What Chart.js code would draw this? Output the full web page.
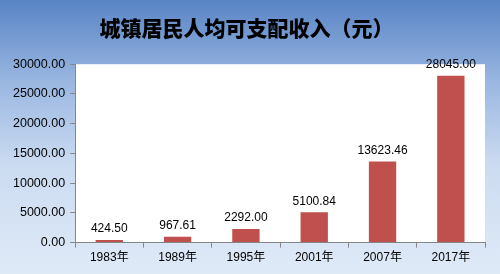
<!DOCTYPE html>
<html>
<head>
<meta charset="utf-8">
<script src="https://cdn.jsdelivr.net/npm/chart.js@4/dist/chart.umd.min.js"></script>
<style>
  html, body { margin: 0; padding: 0; }
  #wrap { width: 500px; height: 274px; }
</style>
</head>
<body>
<div id="wrap"><canvas id="incomeChart" width="500" height="274"></canvas></div>
<script>
// 城镇居民人均可支配收入
var years = ["1983年", "1989年", "1995年", "2001年", "2007年", "2017年"];
var income = [424.50, 967.61, 2292.00, 5100.84, 13623.46, 28045.00];
var yTicks = [0, 5000, 10000, 15000, 20000, 25000, 30000];

// background gradient + white plot area
var bgPlugin = {
  id: "bg",
  beforeDraw: function (chart) {
    var ctx = chart.ctx, a = chart.chartArea;
    var g = ctx.createLinearGradient(0, 0, 0, chart.height);
    g.addColorStop(0, "#5884C5");
    g.addColorStop(0.3, "#9AB7E1");
    g.addColorStop(0.6, "#CBDBF1");
    g.addColorStop(1, "#DFEAF7");
    ctx.save();
    ctx.fillStyle = g;
    ctx.fillRect(0, 0, chart.width, chart.height);
    ctx.fillStyle = "#FFFFFF";
    ctx.fillRect(a.left, a.top, a.right - a.left, a.bottom - a.top);
    ctx.restore();
  }
};

// value labels above bars
var labelPlugin = {
  id: "valueLabels",
  afterDatasetsDraw: function (chart) {
    var ctx = chart.ctx;
    var meta = chart.getDatasetMeta(0);
    ctx.save();
    ctx.font = "12px 'Liberation Sans', Arial, sans-serif";
    ctx.fillStyle = "#000000";
    ctx.textAlign = "center";
    ctx.textBaseline = "bottom";
    meta.data.forEach(function (bar, i) {
      ctx.fillText(income[i].toFixed(2), bar.x, bar.y - 5);
    });
    ctx.restore();
  }
};

new Chart(document.getElementById("incomeChart"), {
  type: "bar",
  data: {
    labels: years,
    datasets: [{
      data: income,
      backgroundColor: "#C0504D",
      categoryPercentage: 1,
      barPercentage: 0.4
    }]
  },
  options: {
    responsive: false,
    animation: false,
    layout: { padding: { left: 8, right: 15, bottom: 6, top: 0 } },
    plugins: {
      legend: { display: false },
      tooltip: { enabled: false },
      title: {
        display: true,
        text: "城镇居民人均可支配收入（元）",
        color: "#000000",
        font: { family: "'Noto Sans CJK SC', sans-serif", size: 21, weight: "900", lineHeight: 1.2 },
        padding: { top: 15, bottom: 24 }
      }
    },
    scales: {
      x: {
        grid: { display: true, drawOnChartArea: false, drawTicks: true, tickLength: 5, color: "#868686", offset: true },
        border: { display: true, color: "#868686" },
        ticks: { color: "#000000", padding: 3, font: { family: "'Liberation Sans', 'Noto Sans CJK SC', sans-serif", size: 12 } }
      },
      y: {
        min: 0,
        max: 30000,
        afterBuildTicks: function (axis) {
          axis.ticks = yTicks.map(function (v) { return { value: v }; });
        },
        grid: { display: true, drawOnChartArea: false, drawTicks: true, tickLength: 5, color: "#868686" },
        border: { display: true, color: "#868686" },
        ticks: {
          color: "#000000",
          padding: 5,
          font: { family: "'Liberation Sans', Arial, sans-serif", size: 12.5 },
          callback: function (v) { return Number(v).toFixed(2); }
        }
      }
    }
  },
  plugins: [bgPlugin, labelPlugin]
});
</script>
</body>
</html>
